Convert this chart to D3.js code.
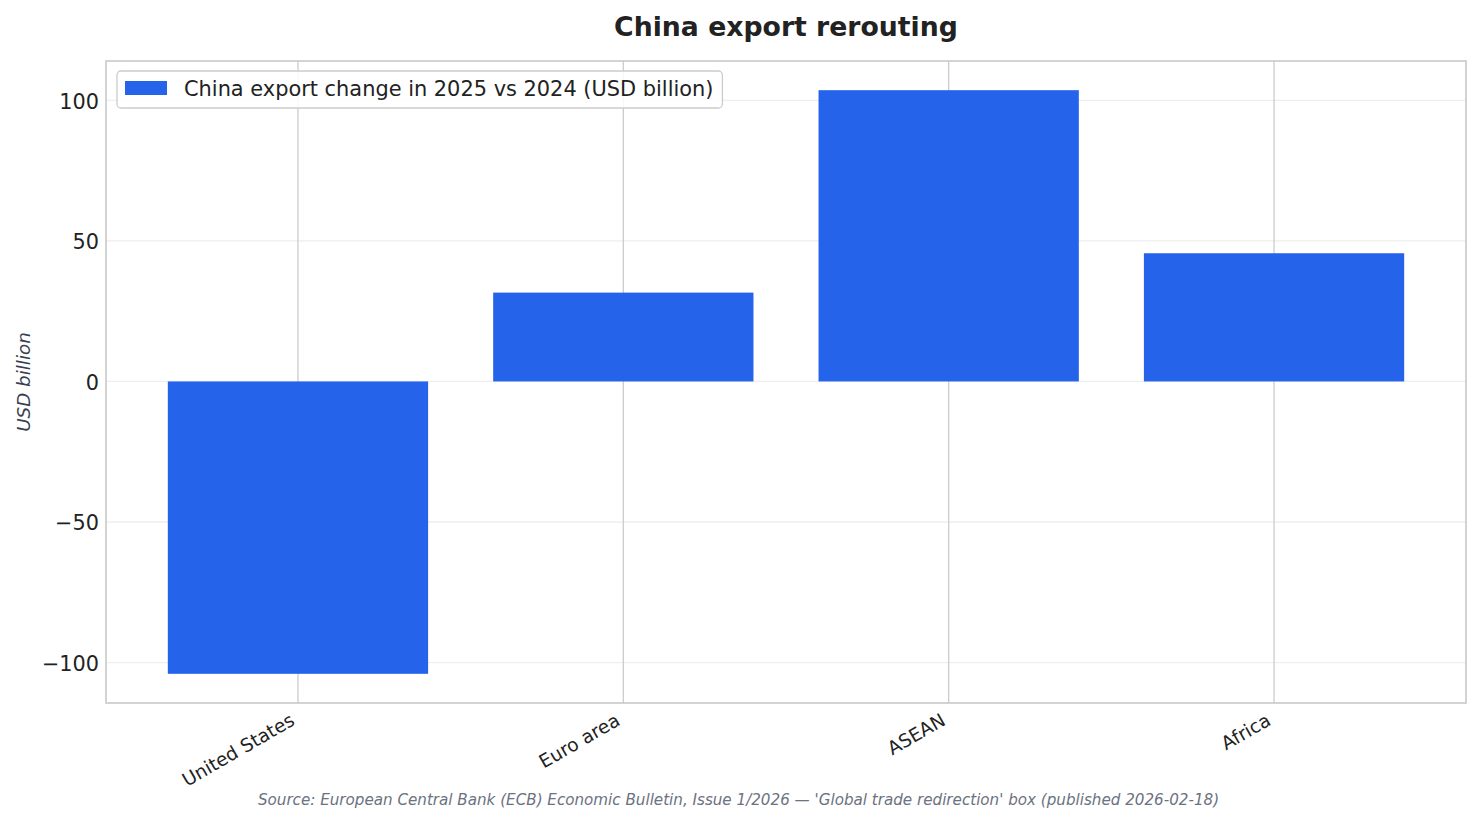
<!DOCTYPE html>
<html>
<head>
<meta charset="utf-8">
<script src="https://cdn.jsdelivr.net/npm/d3@7"></script>
<style>
  body { margin: 0; background: #fff; }
  svg { display: block; font-family: "DejaVu Sans", sans-serif; }
</style>
</head>
<body>
<svg id="chart" width="1481" height="824"></svg>
<script>
// data
const regions = ["United States", "Euro area", "ASEAN", "Africa"]
const exportChange = [-104.0, 31.6, 103.6, 45.6]
const yTicks = [-100, -50, 0, 50, 100]

const seriesName = "China export change in 2025 vs 2024 (USD billion)"
const barColor = "#2563eb"

const margin = { left: 106, right: 15, top: 61, bottom: 121 }
const W = 1481, H = 824
const plotW = W - margin.left - margin.right
const plotH = H - margin.top - margin.bottom

const svg = d3.select("#chart")
const g = svg.append("g").attr("transform", `translate(${margin.left},${margin.top})`)

// categories sit at 0..n-1, bar width 0.8, matplotlib style side margins
const xc = d3.scaleLinear().domain([-0.59, regions.length - 1 + 0.59]).range([0, plotW])

const dMin = d3.min(exportChange), dMax = d3.max(exportChange)
const pad = (dMax - dMin) * 0.05
const y = d3.scaleLinear().domain([dMin - pad, dMax + pad]).range([plotH, 0])

// grid
g.append("g").selectAll("line").data(yTicks).join("line")
    .attr("x1", 0).attr("x2", plotW)
    .attr("y1", d => y(d)).attr("y2", d => y(d))
    .attr("stroke", "#eeeeee").attr("stroke-width", 1.3)

g.append("g").selectAll("line").data(regions).join("line")
    .attr("x1", (d, i) => xc(i)).attr("x2", (d, i) => xc(i))
    .attr("y1", 0).attr("y2", plotH)
    .attr("stroke", "#cccccc").attr("stroke-width", 1.3)

// bars
const bw = xc(0.4) - xc(-0.4)
g.append("g").selectAll("rect").data(exportChange).join("rect")
    .attr("x", (d, i) => xc(i) - bw / 2)
    .attr("width", bw)
    .attr("y", d => y(Math.max(0, d)))
    .attr("height", d => Math.abs(y(d) - y(0)))
    .attr("fill", barColor)

// spines
g.append("rect")
    .attr("x", 0).attr("y", 0).attr("width", plotW).attr("height", plotH)
    .attr("fill", "none").attr("stroke", "#cccccc").attr("stroke-width", 1.7)

// y axis
const yAxis = d3.axisLeft(y).tickValues(yTicks).tickSize(0).tickPadding(7)
    .tickFormat(d => d < 0 ? "\u2212" + Math.abs(d) : d)
const ya = g.append("g").call(yAxis)
ya.select(".domain").remove()
ya.selectAll("text")
    .attr("font-size", 20.8).attr("fill", "#222")
    .attr("font-family", "DejaVu Sans").attr("dy", "0.38em")

// x axis
const xa = g.append("g").attr("transform", `translate(0,${plotH})`)
xa.selectAll("text").data(regions).join("text")
    .attr("transform", (d, i) => `translate(${xc(i) - 2},${21}) rotate(-30)`)
    .attr("text-anchor", "end")
    .attr("font-size", 18.6)
    .attr("fill", "#222")
    .text(d => d)

// y label
svg.append("text")
    .attr("transform", `translate(30,${margin.top + plotH / 2}) rotate(-90)`)
    .attr("text-anchor", "middle")
    .attr("font-size", 18.3)
    .attr("font-style", "italic")
    .attr("fill", "#374151")
    .text("USD billion")

// title
svg.append("text")
    .attr("x", margin.left + plotW / 2).attr("y", 36)
    .attr("text-anchor", "middle")
    .attr("font-size", 26.7)
    .attr("font-weight", "bold")
    .attr("fill", "#222")
    .text("China export rerouting")

// source
svg.append("text")
    .attr("x", 738.5).attr("y", 805)
    .attr("text-anchor", "middle")
    .attr("font-size", 15.15)
    .attr("font-style", "italic")
    .attr("fill", "#6b7280")
    .text("Source: European Central Bank (ECB) Economic Bulletin, Issue 1/2026 \u2014 'Global trade redirection' box (published 2026-02-18)")

// legend
const leg = g.append("g").attr("transform", "translate(11,10)")
const legBox = leg.append("rect")
    .attr("x", 0).attr("y", 0).attr("height", 37).attr("rx", 4)
    .attr("fill", "#fff").attr("fill-opacity", 0.85)
    .attr("stroke", "#cccccc").attr("stroke-width", 1.3)
leg.append("rect")
    .attr("x", 8).attr("y", 10).attr("width", 42).attr("height", 14)
    .attr("fill", barColor)
const legText = leg.append("text")
    .attr("x", 67).attr("y", 18).attr("dy", "0.35em")
    .attr("font-size", 20.9)
    .attr("fill", "#222")
    .text(seriesName)
legBox.attr("width", 67 + legText.node().getComputedTextLength() + 9)
</script>
</body>
</html>
